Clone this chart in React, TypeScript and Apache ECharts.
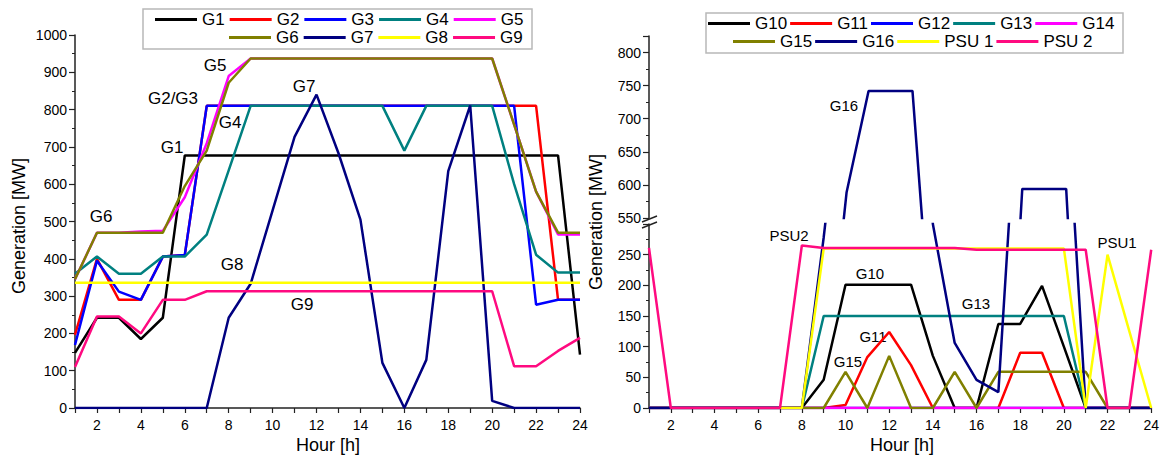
import React, { useEffect, useRef } from 'react';
import * as echarts from 'echarts';

const hours = [1, 2, 3, 4, 5, 6, 7, 8, 9, 10, 11, 12, 13, 14, 15, 16, 17, 18, 19, 20, 21, 22, 23, 24];
const evenHourLabels = ['2', '4', '6', '8', '10', '12', '14', '16', '18', '20', '22', '24'];

// Left panel (G1..G9), MW
const G1 = [148, 242, 242, 185, 242, 677, 677, 677, 677, 677, 677, 677, 677, 677, 677, 677, 677, 677, 677, 677, 677, 677, 677, 143];
const G2 = [196, 400, 290, 290, 406, 410, 810, 810, 810, 810, 810, 810, 810, 810, 810, 810, 810, 810, 810, 810, 810, 810, 290, 290];
const G3 = [169, 395, 312, 290, 406, 410, 810, 810, 810, 810, 810, 810, 810, 810, 810, 810, 810, 810, 810, 810, 810, 277, 290, 290];
const G4 = [360, 406, 360, 360, 406, 406, 465, 637, 810, 810, 810, 810, 810, 810, 810, 690, 810, 810, 810, 810, 600, 411, 363, 363];
const G5 = [345, 470, 470, 473, 475, 565, 710, 890, 937, 937, 937, 937, 937, 937, 937, 937, 937, 937, 937, 937, 760, 580, 465, 465];
const G6 = [345, 470, 470, 470, 470, 595, 690, 872, 937, 937, 937, 937, 937, 937, 937, 937, 937, 937, 937, 937, 760, 580, 470, 470];
const G7 = [0, 0, 0, 0, 0, 0, 0, 242, 333, 530, 727, 840, 683, 505, 121, 0, 129, 635, 811, 19, 0, 0, 0, 0];
const G8 = [336, 336, 336, 336, 336, 336, 336, 336, 336, 336, 336, 336, 336, 336, 336, 336, 336, 336, 336, 336, 336, 336, 336, 336];
const G9 = [110, 245, 245, 200, 290, 290, 313, 313, 313, 313, 313, 313, 313, 313, 313, 313, 313, 313, 313, 313, 112, 112, 153, 188];

// Right panel (G10..G16, PSU 1, PSU 2), MW
const G10 = [0, 0, 0, 0, 0, 0, 0, 0, 46, 201, 201, 201, 201, 85, 0, 0, 137, 137, 199, 100, 0, 0, 0, 0];
const G11 = [0, 0, 0, 0, 0, 0, 0, 0, 0, 5, 83, 124, 70, 0, 0, 0, 0, 90, 90, 0, 0, 0, 0, 0];
const G12 = [0, 0, 0, 0, 0, 0, 0, 0, 0, 0, 0, 0, 0, 0, 0, 0, 0, 0, 0, 0, 0, 0, 0, 0];
const G13 = [0, 0, 0, 0, 0, 0, 0, 0, 150, 150, 150, 150, 150, 150, 150, 150, 150, 150, 150, 150, 0, 0, 0, 0];
const G14 = [0, 0, 0, 0, 0, 0, 0, 0, 0, 0, 0, 0, 0, 0, 0, 0, 0, 0, 0, 0, 0, 0, 0, 0];
const G15 = [0, 0, 0, 0, 0, 0, 0, 0, 0, 59, 0, 85, 0, 0, 59, 0, 59, 59, 59, 59, 59, 0, 0, 0];
const G16 = [0, 0, 0, 0, 0, 0, 0, 0, 278, 589, 742, 742, 742, 300, 106, 46, 26, 594, 594, 594, 0, 0, 0, 0];
const PSU1 = [null, null, null, null, null, null, 0, 0, 260, 260, 260, 260, 260, 260, 260, 260, 260, 260, 260, 260, 0, 250, 125, 0];
const PSU2 = [261, 0, 0, 0, 0, 0, 0, 265, 261, 261, 261, 261, 261, 261, 261, 258, 258, 258, 258, 258, 258, 0, 0, 258];

const leftNames = ['G1', 'G2', 'G3', 'G4', 'G5', 'G6', 'G7', 'G8', 'G9'];
const rightNames = ['G10', 'G11', 'G12', 'G13', 'G14', 'G15', 'G16', 'PSU 1', 'PSU 2'];
const palette = ['#000000', '#FF0000', '#0000FF', '#008080', '#FF00FF', '#808000', '#000080', '#FFFF00', '#FF0A80'];

const leftTickLabels = ['0', '100', '200', '300', '400', '500', '600', '700', '800', '900', '1000'];
const rightLowTickLabels = ['0', '50', '100', '150', '200', '250'];
const rightHighTickLabels = ['550', '600', '650', '700', '750', '800'];

const FONT = 'Liberation Sans, Arial, Helvetica, sans-serif';

export default function App() {
  const ref = useRef<HTMLDivElement>(null);

  useEffect(() => {
    if (!ref.current) return;
    const chart = echarts.init(ref.current, undefined, { renderer: 'svg' });

    const toPairs = (arr: (number | null)[]) => hours.map((h, i) => [h, arr[i]]);
    const mkLine = (name: string, data: (number | null)[], color: string, xi: number, yi: number) => ({
      type: 'line',
      name,
      data: toPairs(data),
      xAxisIndex: xi,
      yAxisIndex: yi,
      symbol: 'none',
      showSymbol: false,
      connectNulls: false,
      clip: true,
      lineStyle: { color, width: 2.5 },
      itemStyle: { color },
      emphasis: { disabled: true },
    });

    const leftData = [G1, G2, G3, G4, G5, G6, G7, G8, G9];
    const rightData = [G10, G11, G12, G13, G14, G15, G16, PSU1, PSU2];

    const series: any[] = [];
    leftData.forEach((d, i) => series.push(mkLine(leftNames[i], d, palette[i], 0, 0)));
    rightData.forEach((d, i) => series.push(mkLine(rightNames[i], d, palette[i], 2, 2)));
    // upper segment of the broken axis (only G16 reaches it)
    series.push(mkLine('G16', G16, palette[6], 1, 1));

    const axisLine = { show: true, lineStyle: { color: '#222', width: 1.5 } };
    const labelStyle = { color: '#000', fontSize: 14, fontFamily: FONT };

    const xAxisBase = (gi: number, show: boolean) => ({
      type: 'value',
      gridIndex: gi,
      min: 1,
      max: 24,
      interval: 1,
      show,
      axisLine,
      axisTick: { show: true, length: 5, lineStyle: { color: '#222', width: 1.2 } },
      splitLine: { show: false },
      axisLabel: {
        ...labelStyle,
        margin: 10,
        formatter: (v: number) => (evenHourLabels.includes(String(v)) ? String(v) : ''),
      },
    });

    const yTick = { show: true, length: 6, lineStyle: { color: '#222', width: 1.2 } };
    const yMinor = { show: true, splitNumber: 2, length: 3, lineStyle: { color: '#222', width: 1 } };

    const legendBase = {
      orient: 'horizontal',
      padding: 0,
      icon: 'rect',
      itemWidth: 42,
      itemHeight: 3,
      selectedMode: false,
      textStyle: { fontSize: 17, fontFamily: FONT, color: '#000' },
    };

    const txt = (text: string, x: number, y: number, size: number, rotation = 0) => ({
      type: 'text',
      x,
      y,
      rotation,
      silent: true,
      style: {
        text,
        font: `${size}px ${FONT}`,
        fill: '#000',
        textAlign: 'center',
        textVerticalAlign: 'middle',
        align: 'center',
        verticalAlign: 'middle',
      },
    });

    const option: any = {
      animation: false,
      backgroundColor: '#fff',
      grid: [
        { left: 75, top: 35, width: 505, height: 373 },
        { left: 649, top: 36, width: 505, height: 182 },
        { left: 649, top: 224, width: 505, height: 184 },
      ],
      xAxis: [xAxisBase(0, true), xAxisBase(1, false), xAxisBase(2, true)],
      yAxis: [
        {
          type: 'value',
          gridIndex: 0,
          min: 0,
          max: 1000,
          interval: 100,
          axisLine,
          axisTick: yTick,
          minorTick: yMinor,
          splitLine: { show: false },
          axisLabel: {
            ...labelStyle,
            margin: 8,
            formatter: (v: number) => (leftTickLabels.includes(String(v)) ? String(v) : ''),
          },
        },
        {
          type: 'value',
          gridIndex: 1,
          min: 550,
          max: 825,
          interval: 50,
          axisLine,
          axisTick: yTick,
          minorTick: yMinor,
          splitLine: { show: false },
          axisLabel: {
            ...labelStyle,
            margin: 8,
            formatter: (v: number) => (rightHighTickLabels.includes(String(v)) ? String(v) : ''),
          },
        },
        {
          type: 'value',
          gridIndex: 2,
          min: 0,
          max: 300,
          interval: 50,
          axisLine,
          axisTick: yTick,
          minorTick: yMinor,
          splitLine: { show: false },
          axisLabel: {
            ...labelStyle,
            margin: 8,
            formatter: (v: number) => (rightLowTickLabels.includes(String(v)) ? String(v) : ''),
          },
        },
      ],
      legend: [
        { ...legendBase, left: 155, top: 11, itemGap: 5, data: leftNames.slice(0, 5) },
        { ...legendBase, left: 229, top: 29, itemGap: 5, data: leftNames.slice(5) },
        { ...legendBase, left: 708, top: 15, itemGap: 3, data: rightNames.slice(0, 5) },
        { ...legendBase, left: 733, top: 33, itemGap: 3, data: rightNames.slice(5) },
      ],
      graphic: [
        { type: 'rect', silent: true, shape: { x: 143, y: 9, width: 389, height: 40 }, style: { fill: 'none', stroke: '#b8b8b8', lineWidth: 1.5 } },
        { type: 'rect', silent: true, shape: { x: 706, y: 13, width: 417, height: 40 }, style: { fill: 'none', stroke: '#b8b8b8', lineWidth: 1.5 } },
        // axis titles
        txt('Generation [MW]', 19, 226, 18, Math.PI / 2),
        txt('Generation [MW]', 596, 222, 18, Math.PI / 2),
        txt('Hour [h]', 328, 445, 18),
        txt('Hour [h]', 902, 445, 18),
        // left annotations
        txt('G6', 101, 216, 17),
        txt('G5', 215, 65, 17),
        txt('G2/G3', 173, 98, 17),
        txt('G4', 230, 122, 17),
        txt('G1', 172, 147, 17),
        txt('G7', 304, 86, 17),
        txt('G8', 232, 264, 17),
        txt('G9', 302, 304, 17),
        // right annotations
        txt('G16', 844, 105, 15),
        txt('PSU2', 789, 235, 15),
        txt('G10', 870, 273, 15),
        txt('G11', 873, 336, 15),
        txt('G15', 848, 361, 15),
        txt('G13', 976, 303, 15),
        txt('PSU1', 1117, 242, 15),
        // axis break marks
        { type: 'line', silent: true, shape: { x1: 642, y1: 222, x2: 657, y2: 216 }, style: { stroke: '#222', lineWidth: 1.5 } },
        { type: 'line', silent: true, shape: { x1: 642, y1: 228, x2: 657, y2: 222 }, style: { stroke: '#222', lineWidth: 1.5 } },
      ],
      series,
    };

    chart.setOption(option);
    return () => {
      chart.dispose();
    };
  }, []);

  return <div ref={ref} style={{ position: 'fixed', left: 0, top: 0, width: 1162, height: 456 }} />;
}
